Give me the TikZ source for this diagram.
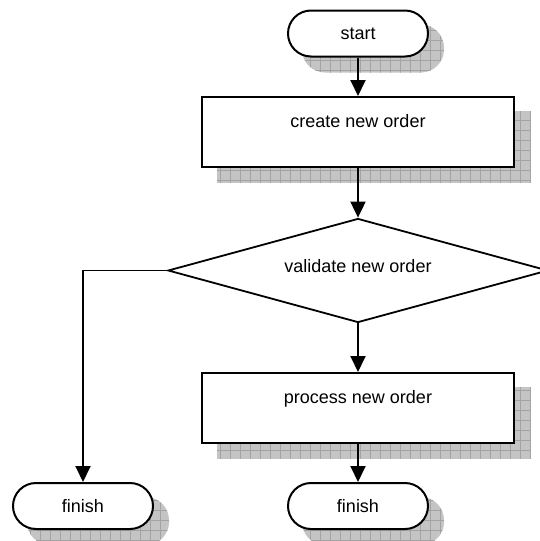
\documentclass[tikz,border=0pt]{standalone}
\usepackage{fontspec}
\setmainfont{Liberation Sans}
\usetikzlibrary{arrows.meta,shapes.geometric,backgrounds}
\begin{document}
\begin{tikzpicture}[x=1pt,y=-1pt,
  font=\fontsize{18}{21}\selectfont,
  every node/.style={line width=2pt, inner sep=0pt},
  terminal/.style={draw, fill=white, rectangle, rounded corners=23pt,
    minimum width=140pt, minimum height=46pt},
  stepbox/.style={draw, fill=white, rectangle, minimum width=312pt,
    minimum height=70pt, text height=13pt, text depth=23pt},
  decision/.style={draw, fill=white, diamond, shape aspect=3.65, line width=1.8pt,
    minimum width=380pt, minimum height=104pt, text height=13pt, text depth=9pt},
  flow/.style={line width=1.9pt, -{Triangle[width=15pt,length=16pt]}},
  shadowfill/.style={fill=gray!46,
    path picture={\draw[gray!72, line width=0.7pt, step=10pt]
      (path picture bounding box.south west) grid (path picture bounding box.north east);}},
]
\useasboundingbox (0,0) rectangle (539,541);

% flowchart nodes
\node[terminal] (start) at (358,33.5) {start};
\node[stepbox] (create) at (358,132) {create new order};
\node[decision] (validate) at (358,270.5) {validate new order};
\node[stepbox] (proc) at (358,408) {process new order};
\node[terminal] (finL) at (83,506) {finish};
\node[terminal] (finR) at (358,506) {finish};

% hatched drop shadows
\begin{scope}[on background layer]
  \foreach \n in {create,proc}
    \path[shadowfill] ([shift={(16,15)}]\n.north west) rectangle ([shift={(16,15)}]\n.south east);
  \foreach \n in {start,finL,finR}
    \path[shadowfill, rounded corners=23pt] ([shift={(15,15)}]\n.north west) rectangle ([shift={(15,15)}]\n.south east);
\end{scope}

% connectors
\draw[flow] (start) -- (create);
\draw[flow] (create) -- (validate);
\draw[flow] (validate) -- (proc);
\draw[flow] (proc) -- (finR);
\draw[flow] (validate.west) -| (finL.north);
\end{tikzpicture}
\end{document}
